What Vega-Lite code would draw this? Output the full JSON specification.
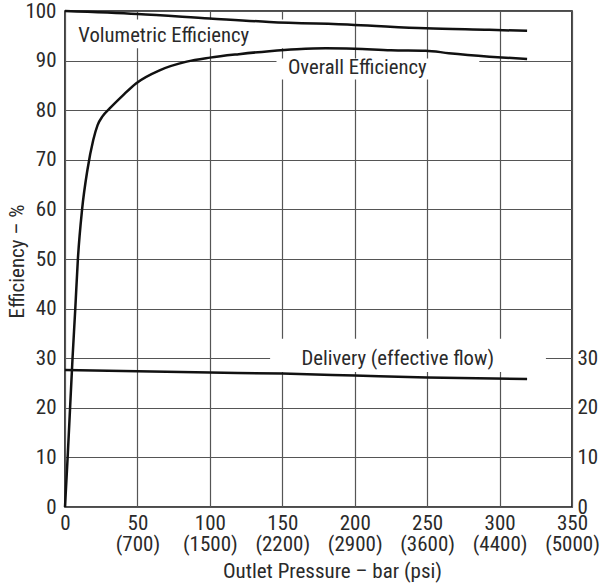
{
  "$schema": "https://vega.github.io/schema/vega-lite/v6.json",
  "width": 507,
  "height": 496,
  "autosize": {"type": "none"},
  "padding": {"left": 65, "top": 11, "right": 28, "bottom": 77},
  "background": "white",
  "config": {
    "font": "Roboto Condensed, Roboto, sans-serif",
    "view": {"stroke": "#111", "strokeWidth": 1.6},
    "axis": {"labelFont": "Roboto Condensed, Roboto, sans-serif", "titleFont": "Roboto Condensed, Roboto, sans-serif", "labelColor": "#2a2a2a", "titleColor": "#2a2a2a", "titleFontWeight": "normal"}
  },
  "datasets": {
    "curves": [
      {"series": "Volumetric", "x": 0, "y": 100},
      {"series": "Volumetric", "x": 50, "y": 99.4},
      {"series": "Volumetric", "x": 100, "y": 98.5},
      {"series": "Volumetric", "x": 141, "y": 97.8},
      {"series": "Volumetric", "x": 200, "y": 97.2},
      {"series": "Volumetric", "x": 249, "y": 96.5},
      {"series": "Volumetric", "x": 293, "y": 96.2},
      {"series": "Volumetric", "x": 319, "y": 96.0},
      {"series": "Overall", "x": 0, "y": 0},
      {"series": "Overall", "x": 2, "y": 11},
      {"series": "Overall", "x": 5.2, "y": 30},
      {"series": "Overall", "x": 7.1, "y": 40},
      {"series": "Overall", "x": 8.9, "y": 50},
      {"series": "Overall", "x": 11.8, "y": 60},
      {"series": "Overall", "x": 15.5, "y": 68},
      {"series": "Overall", "x": 19.5, "y": 74},
      {"series": "Overall", "x": 22.5, "y": 77},
      {"series": "Overall", "x": 26, "y": 78.8},
      {"series": "Overall", "x": 31, "y": 80.4},
      {"series": "Overall", "x": 40, "y": 83},
      {"series": "Overall", "x": 49, "y": 85.4},
      {"series": "Overall", "x": 65.7, "y": 88.1},
      {"series": "Overall", "x": 84, "y": 89.8},
      {"series": "Overall", "x": 100, "y": 90.6},
      {"series": "Overall", "x": 120, "y": 91.3},
      {"series": "Overall", "x": 141, "y": 91.9},
      {"series": "Overall", "x": 160, "y": 92.3},
      {"series": "Overall", "x": 180, "y": 92.5},
      {"series": "Overall", "x": 200, "y": 92.4},
      {"series": "Overall", "x": 225, "y": 92.1},
      {"series": "Overall", "x": 249, "y": 92.0},
      {"series": "Overall", "x": 265, "y": 91.5},
      {"series": "Overall", "x": 293, "y": 90.8},
      {"series": "Overall", "x": 319, "y": 90.3},
      {"series": "Delivery", "x": 0, "y": 27.6},
      {"series": "Delivery", "x": 100, "y": 27.1},
      {"series": "Delivery", "x": 150, "y": 26.9},
      {"series": "Delivery", "x": 200, "y": 26.5},
      {"series": "Delivery", "x": 250, "y": 26.1},
      {"series": "Delivery", "x": 319, "y": 25.8}
    ],
    "boxes": [
      {"x": 5, "x2": 152, "y": 92.5, "y2": 98.3},
      {"x": 146, "x2": 286, "y": 86.2, "y2": 90.4},
      {"x": 141.6, "x2": 332, "y": 27.2, "y2": 33.9}
    ],
    "labels": [
      {"label": "Volumetric Efficiency", "x": 9.2, "y": 93.8},
      {"label": "Overall Efficiency", "x": 153.9, "y": 87.2},
      {"label": "Delivery (effective flow)", "x": 163.3, "y": 28.6}
    ]
  },
  "layer": [
    {
      "data": {"name": "boxes"},
      "mark": {"type": "rect", "fill": "white", "strokeWidth": 0},
      "encoding": {
        "x": {
          "field": "x", "type": "quantitative",
          "scale": {"domain": [0, 350], "nice": false, "zero": false},
          "axis": {
            "values": [0, 50, 100, 150, 200, 250, 300, 350],
            "labelExpr": "datum.value == 0 ? '0' : [format(datum.value, 'd'), datum.value == 50 ? '(700)' : datum.value == 100 ? '(1500)' : datum.value == 150 ? '(2200)' : datum.value == 200 ? '(2900)' : datum.value == 250 ? '(3600)' : datum.value == 300 ? '(4400)' : '(5000)']",
            "grid": true, "gridColor": "#555", "gridWidth": 1.2,
            "domain": false, "ticks": false,
            "labelFontSize": 21, "labelPadding": 5, "labelLineHeight": 21,
            "labelBaseline": "top", "labelFlush": false, "labelOverlap": false,
            "title": "Outlet Pressure – bar (psi)", "titleFontSize": 21,
            "titleX": 267, "titleY": 70, "titleBaseline": "alphabetic", "titleAlign": "center"
          }
        },
        "x2": {"field": "x2"},
        "y": {
          "field": "y", "type": "quantitative",
          "scale": {"domain": [0, 100], "nice": false, "zero": false},
          "axis": {
            "orient": "left",
            "values": [0, 10, 20, 30, 40, 50, 60, 70, 80, 90, 100],
            "grid": true, "gridColor": "#555", "gridWidth": 1.2,
            "domain": false, "ticks": false,
            "labelFontSize": 21, "labelPadding": 9, "labelFlush": false, "labelOverlap": false,
            "title": "Efficiency – %", "titleFontSize": 21,
            "titleX": -48, "titleY": 250, "titleAngle": 270, "titleBaseline": "middle", "titleAlign": "center"
          }
        },
        "y2": {"field": "y2"}
      }
    },
    {
      "data": {"name": "curves"},
      "mark": {"type": "line", "interpolate": "monotone", "color": "#111", "strokeWidth": 2.5},
      "encoding": {
        "x": {"field": "x", "type": "quantitative"},
        "y": {
          "field": "y", "type": "quantitative",
          "axis": {
            "orient": "right", "values": [0, 10, 20, 30],
            "grid": false, "domain": false, "ticks": false,
            "labelFontSize": 21, "labelPadding": 5, "labelFlush": false, "labelOverlap": false,
            "title": null
          }
        },
        "detail": {"field": "series", "type": "nominal"}
      }
    },
    {
      "data": {"name": "labels"},
      "mark": {"type": "text", "align": "left", "baseline": "alphabetic", "fontSize": 20.7, "color": "#2a2a2a", "font": "Roboto Condensed, Roboto, sans-serif"},
      "encoding": {
        "x": {"field": "x", "type": "quantitative"},
        "y": {"field": "y", "type": "quantitative", "axis": null},
        "text": {"field": "label", "type": "nominal"}
      }
    }
  ],
  "resolve": {"axis": {"y": "independent"}}
}
